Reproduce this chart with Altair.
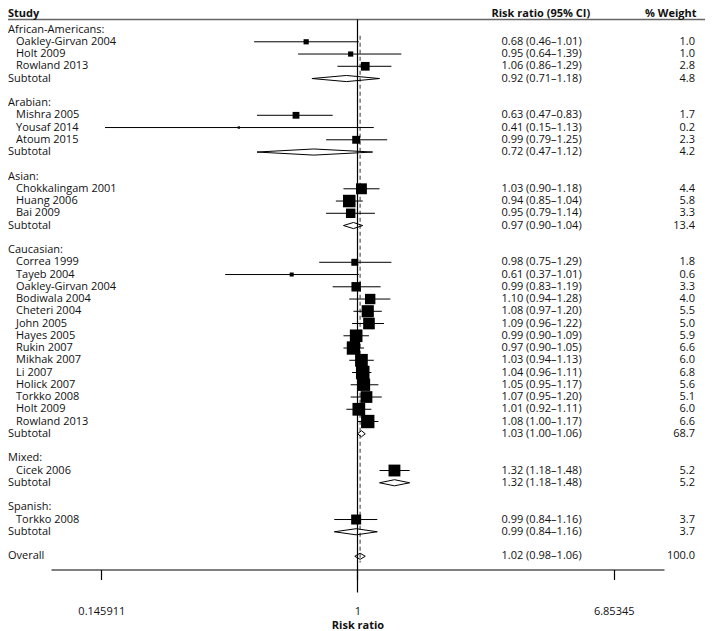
import altair as alt
import pandas as pd

# ---------------- data ----------------
groups = ["African-Americans", "Arabian", "Asian", "Caucasian", "Mixed", "Spanish"]

studies = [
    ["Oakley-Girvan 2004", "Holt 2009", "Rowland 2013"],
    ["Mishra 2005", "Yousaf 2014", "Atoum 2015"],
    ["Chokkalingam 2001", "Huang 2006", "Bai 2009"],
    ["Correa 1999", "Tayeb 2004", "Oakley-Girvan 2004", "Bodiwala 2004", "Cheteri 2004",
     "John 2005", "Hayes 2005", "Rukin 2007", "Mikhak 2007", "Li 2007", "Holick 2007",
     "Torkko 2008", "Holt 2009", "Rowland 2013"],
    ["Cicek 2006"],
    ["Torkko 2008"],
]
study_rr = [
    [0.68, 0.95, 1.06],
    [0.63, 0.41, 0.99],
    [1.03, 0.94, 0.95],
    [0.98, 0.61, 0.99, 1.10, 1.08, 1.09, 0.99, 0.97, 1.03, 1.04, 1.05, 1.07, 1.01, 1.08],
    [1.32],
    [0.99],
]
study_lo = [
    [0.46, 0.64, 0.86],
    [0.47, 0.15, 0.79],
    [0.90, 0.85, 0.79],
    [0.75, 0.37, 0.83, 0.94, 0.97, 0.96, 0.90, 0.90, 0.94, 0.96, 0.95, 0.95, 0.92, 1.00],
    [1.18],
    [0.84],
]
study_hi = [
    [1.01, 1.39, 1.29],
    [0.83, 1.13, 1.25],
    [1.18, 1.04, 1.14],
    [1.29, 1.01, 1.19, 1.28, 1.20, 1.22, 1.09, 1.05, 1.13, 1.11, 1.17, 1.20, 1.11, 1.17],
    [1.48],
    [1.16],
]
study_weight = [
    [1.0, 1.0, 2.8],
    [1.7, 0.2, 2.3],
    [4.4, 5.8, 3.3],
    [1.8, 0.6, 3.3, 4.0, 5.5, 5.0, 5.9, 6.6, 6.0, 6.8, 5.6, 5.1, 6.0, 6.6],
    [5.2],
    [3.7],
]
sub_rr = [0.92, 0.72, 0.97, 1.03, 1.32, 0.99]
sub_lo = [0.71, 0.47, 0.90, 1.00, 1.18, 0.84]
sub_hi = [1.18, 1.12, 1.04, 1.06, 1.48, 1.16]
sub_weight = [4.8, 4.2, 13.4, 68.7, 5.2, 3.7]
overall_rr, overall_lo, overall_hi, overall_weight = 1.02, 0.98, 1.06, 100.0
tick_values = [0.145911, 1, 6.85345]
null_value = [1.0]

# ---------------- build tables ----------------
label_rows, study_rows, summary_rows = [], [], []
row = 0
for gi, g in enumerate(groups):
    label_rows.append({"label": g + ":", "kind": "group", "row": row})
    row += 1
    for si, s in enumerate(studies[gi]):
        r, l, h, w = study_rr[gi][si], study_lo[gi][si], study_hi[gi][si], study_weight[gi][si]
        label_rows.append({"label": s, "kind": "study", "row": row})
        study_rows.append({"row": row, "rr": r, "lo": l, "hi": h, "w": w,
                           "ci": f"{r:.2f} ({l:.2f}\u2013{h:.2f})", "wt": f"{w:.1f}"})
        row += 1
    label_rows.append({"label": "Subtotal", "kind": "group", "row": row})
    summary_rows.append({"id": gi, "row": row, "rr": sub_rr[gi], "lo": sub_lo[gi], "hi": sub_hi[gi],
                         "ci": f"{sub_rr[gi]:.2f} ({sub_lo[gi]:.2f}\u2013{sub_hi[gi]:.2f})",
                         "wt": f"{sub_weight[gi]:.1f}"})
    row += 2
label_rows.append({"label": "Overall", "kind": "group", "row": row})
summary_rows.append({"id": len(groups), "row": row, "rr": overall_rr, "lo": overall_lo, "hi": overall_hi,
                     "ci": f"{overall_rr:.2f} ({overall_lo:.2f}\u2013{overall_hi:.2f})",
                     "wt": f"{overall_weight:.1f}"})
last_row = row

labels = pd.DataFrame(label_rows)
st = pd.DataFrame(study_rows)
sm = pd.DataFrame(summary_rows)

half = 0.25
dia = []
for _, s in sm.iterrows():
    pts = [(s.lo, s.row), (s.rr, s.row - half), (s.hi, s.row), (s.rr, s.row + half), (s.lo, s.row)]
    for k, (xv, yv) in enumerate(pts):
        dia.append({"id": s.id, "k": k, "x": xv, "y": yv})
dia = pd.DataFrame(dia)

texts = pd.concat([st[["row", "ci", "wt"]], sm[["row", "ci", "wt"]]], ignore_index=True)
overall_line = pd.DataFrame({"rr": [overall_rr], "y1": [0.5], "y2": [last_row + 0.5]})
ref = pd.DataFrame({"rr": null_value})
ticks_df = pd.DataFrame({"rr": tick_values})

# ---------------- scales / axis ----------------
FONT = "Open Sans"
TXT_COLOR = "#111"
W, H = 613, 550
xs = alt.Scale(type="log", domain=[0.1, 10])
ys = alt.Scale(domain=[-0.82, 44.08], reverse=True)
x_axis = alt.Axis(values=tick_values, format="~g", grid=False, tickSize=10,
                  labelPadding=26, titlePadding=3, domainColor="black",
                  tickColor="black", labelColor=TXT_COLOR, titleColor=TXT_COLOR,
                  labelFont=FONT, labelFontSize=11, titleFont=FONT,
                  titleFontSize=11, titleFontWeight="bold", domainWidth=1.2,
                  tickWidth=1.2, labelFlush=False)


def X(f):
    return alt.X(f, scale=xs, axis=x_axis, title="Risk ratio")


def Y(f):
    return alt.Y(f, scale=ys, axis=None)


axis_layer = alt.Chart(ticks_df).mark_point(opacity=0).encode(x=X("rr:Q"), y=alt.value(0))

header_line = alt.Chart(ref).mark_rule(color="#666", strokeWidth=1.5).encode(
    x=alt.value(-43), x2=alt.value(W + 41), y=alt.value(0)
)
ref_line = alt.Chart(ref).mark_rule(color="black", strokeWidth=1.2).encode(
    x=X("rr:Q"), y=alt.value(0), y2=alt.value(H + 23)
)
dash_line = alt.Chart(overall_line).mark_rule(color="#777", strokeWidth=1.5, strokeDash=[4, 3]).encode(
    x=X("rr:Q"), y=Y("y1:Q"), y2="y2:Q"
)
ci_rules = alt.Chart(st).mark_rule(color="black", strokeWidth=1).encode(
    x=X("lo:Q"), x2="hi:Q", y=Y("row:Q")
)
boxes = alt.Chart(st).mark_square(color="black", opacity=1, filled=True).encode(
    x=X("rr:Q"), y=Y("row:Q"),
    size=alt.Size("w:Q", scale=alt.Scale(domain=[0, 10], range=[0, 270]), legend=None),
)
diamonds = alt.Chart(dia).mark_line(color="black", strokeWidth=1).encode(
    x=X("x:Q"), y=Y("y:Q"), detail="id:N", order="k:Q"
)

txt = dict(font=FONT, fontSize=11, color=TXT_COLOR, baseline="middle")
group_text = alt.Chart(labels).transform_filter("datum.kind == 'group'").mark_text(align="left", **txt).encode(
    x=alt.value(-43), y=Y("row:Q"), text="label:N"
)
study_text = alt.Chart(labels).transform_filter("datum.kind == 'study'").mark_text(align="left", **txt).encode(
    x=alt.value(-35), y=Y("row:Q"), text="label:N"
)
ci_text = alt.Chart(texts).mark_text(align="left", **txt).encode(
    x=alt.value(450.5), y=Y("row:Q"), text="ci:N"
)
wt_text = alt.Chart(texts).mark_text(align="right", **txt).encode(
    x=alt.value(644), y=Y("row:Q"), text="wt:N"
)
hdr = dict(font=FONT, fontSize=11, color=TXT_COLOR, fontWeight="bold", baseline="alphabetic")
h1 = alt.Chart(ref).mark_text(align="left", **hdr).encode(x=alt.value(-43), y=alt.value(-3), text=alt.value("Study"))
h2 = alt.Chart(ref).mark_text(align="left", **hdr).encode(x=alt.value(440.5), y=alt.value(-3), text=alt.value("Risk ratio (95% CI)"))
h3 = alt.Chart(ref).mark_text(align="right", **hdr).encode(x=alt.value(645.5), y=alt.value(-3), text=alt.value("% Weight"))

chart = alt.layer(
    axis_layer, header_line, ref_line, dash_line, ci_rules, boxes, diamonds,
    group_text, study_text, ci_text, wt_text, h1, h2, h3,
).properties(
    width=W, height=H,
    padding={"left": 43, "top": 11.5, "right": 41, "bottom": 61.5},
    autosize=alt.AutoSizeParams(type="none"),
    background="white",
).configure_view(stroke=None)

chart.save("out.html", embed_options={"renderer": "svg", "actions": False})
